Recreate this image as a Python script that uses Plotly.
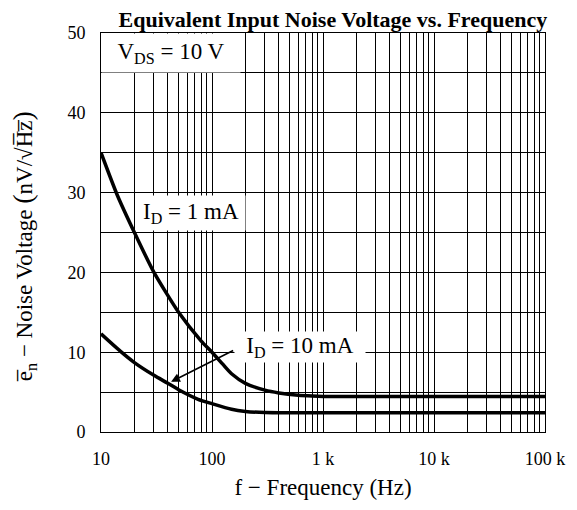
import plotly.graph_objects as go
import math

# ---- data ----
freq_1mA = [10, 14, 20, 30, 50, 80, 100, 125, 150, 200, 300, 400, 600, 800, 1000, 2000, 10000, 100000]
en_1mA = [35.0, 29.7, 25.0, 20.0, 15.0, 11.4, 10.0, 8.5, 7.3, 6.1, 5.25, 4.9, 4.6, 4.5, 4.45, 4.45, 4.45, 4.45]

freq_10mA = [10, 15, 20, 30, 40, 50, 75, 100, 150, 200, 300, 500, 1000, 10000, 100000]
en_10mA = [12.3, 10.1, 8.7, 7.1, 6.1, 5.3, 4.1, 3.55, 2.85, 2.58, 2.43, 2.4, 2.4, 2.4, 2.4]

x_major = [10, 100, 1000, 10000, 100000]
x_major_labels = ["10", "100", "1 k", "10 k", "100 k"]
y_ticks = [0, 5, 10, 15, 20, 25, 30, 35, 40, 45, 50]

# minor log grid positions (2..9 per decade)
x_tickvals = []
x_ticktext = []
for i, d in enumerate(x_major[:-1]):
    for m in range(1, 10):
        x_tickvals.append(d * m)
        x_ticktext.append(x_major_labels[i] if m == 1 else "")
x_tickvals.append(x_major[-1])
x_ticktext.append(x_major_labels[-1])

y_ticktext = [str(v) if v % 10 == 0 else "" for v in y_ticks]

FONT = "Liberation Serif, Times New Roman, serif"
LBL = 23

fig = go.Figure()
fig.add_trace(go.Scatter(x=freq_1mA, y=en_1mA, mode="lines",
                         line=dict(color="black", width=3.5, shape="spline", smoothing=0.6),
                         showlegend=False, hoverinfo="skip"))
fig.add_trace(go.Scatter(x=freq_10mA, y=en_10mA, mode="lines",
                         line=dict(color="black", width=3.5, shape="spline", smoothing=0.6),
                         showlegend=False, hoverinfo="skip"))

annotations = [
    # V_DS box
    dict(x=0, y=1, xref="paper", yref="paper", xanchor="left", yanchor="top",
         text="V<sub>DS</sub> = 10 V", showarrow=False, bgcolor="white",
         width=138, height=38, borderpad=0, align="center",
         font=dict(family=FONT, size=LBL, color="black")),
    # I_D = 1 mA label
    dict(x=math.log10(65), y=27.4, xref="x", yref="y",
         text="I<sub>D</sub> = 1 mA", showarrow=False, bgcolor="white",
         width=108, height=34, borderpad=0,
         font=dict(family=FONT, size=LBL, color="black")),
    # arrow for 10 mA
    dict(x=math.log10(42.8), y=6.3, xref="x", yref="y",
         ax=math.log10(160), ay=10.3, axref="x", ayref="y",
         text="", showarrow=True, arrowhead=2, arrowsize=1.1, arrowwidth=1.6,
         arrowcolor="black"),
    # I_D = 10 mA label
    dict(x=math.log10(624), y=10.6, xref="x", yref="y",
         text="I<sub>D</sub> = 10 mA", showarrow=False, bgcolor="white",
         width=130, height=30, borderpad=0,
         font=dict(family=FONT, size=LBL, color="black")),
    # y-axis title
    dict(x=-0.174, y=0.464, xref="paper", yref="paper", textangle=-90,
         text="e\u0305<sub>n</sub> \u2212 Noise Voltage <span style='font-size:28px'>(</span>nV/\u221aH\u0305z\u0305<span style='font-size:28px'>)</span>",
         showarrow=False, xanchor="center", yanchor="middle",
         font=dict(family=FONT, size=23, color="black")),
]

fig.update_layout(
    width=569, height=502,
    margin=dict(l=93, r=28, t=25, b=78),
    paper_bgcolor="white", plot_bgcolor="white",
    title=dict(text="<b>Equivalent Input Noise Voltage vs. Frequency</b>",
               x=0.571, xanchor="center", y=0.978, yanchor="middle",
               font=dict(family=FONT, size=22, color="black")),
    font=dict(family=FONT, size=18, color="black"),
    annotations=annotations,
)

fig.update_xaxes(type="log", range=[1, 5], tickmode="array",
                 tickvals=x_tickvals, ticktext=x_ticktext,
                 showgrid=True, gridcolor="black", gridwidth=1,
                 showline=True, linecolor="black", linewidth=1, mirror=True,
                 ticks="", ticklabelstandoff=10, zeroline=False,
                 title=dict(text="f \u2212 Frequency (Hz)", standoff=11,
                            font=dict(family=FONT, size=LBL, color="black")),
                 tickfont=dict(family=FONT, size=18, color="black"))
fig.update_yaxes(range=[0, 50], tickmode="array", tickvals=y_ticks, ticktext=y_ticktext,
                 showgrid=True, gridcolor="black", gridwidth=1,
                 showline=True, linecolor="black", linewidth=1, mirror=True,
                 ticks="", ticklabelstandoff=11, zeroline=False,
                 tickfont=dict(family=FONT, size=18, color="black"))

fig.write_html("out.html")
